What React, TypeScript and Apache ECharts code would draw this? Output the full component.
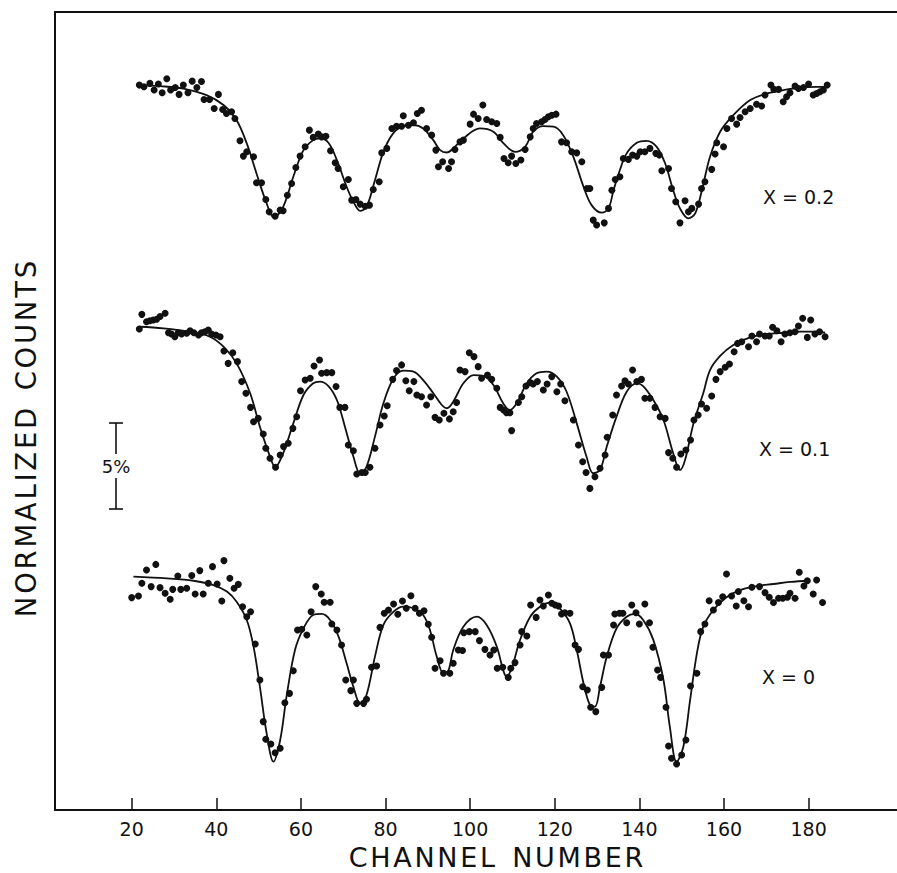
import React, { useEffect, useRef } from "react";
import * as echarts from "echarts";

// Channel number tick labels
const channelTicks = [20, 40, 60, 80, 100, 120, 140, 160, 180];

// Spectrum labels and vertical offsets (in % of normalized counts)
const spectrumLabels = ["X = 0.2", "X = 0.1", "X = 0"];
const spectrumOffsets = [28.6, 14.42, 0];

// X = 0.2 : measured points [channel, normalized counts %]
const x02Points = [
  [21.8,100.06],[22.9,99.96],[24.3,100.16],[25.3,99.77],[26.3,100.12],[27.2,99.61],[28.3,100.43],[29.2,99.77],[30.3,99.92],[31.2,99.52],[32.2,100.06],[33.3,99.61],[34.3,100.29],[35.4,99.92],[36.5,100.27],[37.1,99.22],[38.4,99.22],[39.5,98.70],[40.5,99.52],[41.5,98.64],[42.4,98.41],[43.6,98.51],[44.4,98.12],[45.6,96.82],[46.4,95.93],[47.2,96.18],[48.8,95.89],[49.5,94.38],[50.7,94.38],[51.7,93.41],[52.5,92.69],[53.9,92.44],[55.1,92.79],[55.8,92.75],[56.8,93.66],[57.8,94.34],[58.8,95.27],[59.8,95.93],[61.0,96.47],[62.0,97.44],[62.9,97.02],[64.1,97.21],[64.9,97.05],[65.9,97.09],[67.0,96.24],[68.1,95.54],[68.8,95.21],[70.0,94.15],[71.2,94.57],[72.0,93.37],[73.0,93.41],[74.0,93.14],[75.2,93.02],[76.2,93.08],[77.1,93.99],[78.5,94.44],[79.1,96.12],[80.3,96.38],[81.5,97.54],[82.6,97.67],[83.8,97.67],[84.2,98.28],[85.4,97.73],[86.6,97.87],[87.5,98.41],[88.5,98.60],[89.7,97.54],[90.9,97.15],[91.9,96.28],[92.5,95.31],[93.5,95.60],[94.9,95.21],[95.6,95.60],[96.4,96.32],[97.6,96.76],[98.4,96.86],[100.0,97.79],[100.8,98.37],[101.9,98.12],[103.0,98.90],[103.9,98.06],[105.1,97.93],[106.3,97.83],[107.1,97.02],[108.0,95.79],[109.0,95.54],[109.8,95.93],[110.8,95.50],[112.0,95.70],[113.0,96.32],[114.2,97.05],[114.9,97.54],[115.7,97.83],[116.9,97.93],[117.7,98.06],[118.5,98.22],[119.3,98.31],[120.3,98.37],[121.6,96.76],[122.8,96.71],[124.0,96.18],[125.2,96.12],[126.4,95.60],[127.6,94.05],[128.3,94.05],[129.1,92.21],[129.9,91.92],[131.7,92.05],[132.7,92.89],[133.5,93.95],[134.3,94.57],[135.4,94.73],[136.2,95.79],[137.4,95.74],[138.4,95.99],[139.4,95.93],[140.2,96.18],[141.3,96.18],[142.5,96.38],[143.9,96.09],[144.7,95.99],[145.3,95.08],[146.9,95.21],[147.6,94.05],[148.6,93.28],[149.6,92.05],[150.8,93.33],[151.6,92.69],[152.4,92.89],[154.0,93.14],[154.7,94.05],[155.5,94.44],[157.1,95.16],[157.9,96.05],[158.3,96.71],[159.9,96.47],[160.7,97.54],[161.8,98.12],[163.0,97.79],[163.8,98.18],[165.0,98.51],[166.2,98.70],[167.7,98.95],[168.9,98.84],[169.7,99.48],[171.1,100.06],[171.8,99.81],[172.9,99.81],[174.0,99.09],[174.8,99.38],[175.6,99.61],[176.8,100.00],[177.6,99.86],[178.8,99.92],[180.0,100.12],[181.1,99.48],[181.9,99.57],[182.7,99.67],[183.5,99.77],[184.4,100.06]
];
// X = 0.2 : fitted curve
const x02Fit = [
  [21.8,100.06],[26.7,100.00],[32.2,99.86],[37.7,99.48],[41.7,98.90],[44.8,98.02],[47.2,96.67],[49.5,94.92],[51.9,93.18],[53.6,92.36],[55.8,92.98],[58.2,94.73],[60.6,96.28],[62.9,96.86],[64.5,96.96],[66.5,96.71],[68.5,95.70],[70.8,94.15],[72.4,93.28],[74.0,92.75],[75.5,92.98],[77.5,94.53],[79.5,96.18],[81.8,97.25],[84.2,97.67],[86.6,97.73],[88.9,97.54],[91.3,96.86],[92.9,96.28],[94.5,96.14],[96.0,96.38],[98.4,96.96],[102.3,97.54],[105.5,97.35],[107.9,96.67],[110.6,96.18],[113.0,96.47],[114.9,97.35],[117.3,97.67],[119.7,97.64],[122.0,97.15],[124.4,95.89],[126.8,94.15],[128.7,93.08],[131.1,92.64],[132.7,92.89],[133.9,93.95],[135.4,95.12],[137.0,96.09],[139.4,96.71],[141.7,96.82],[144.1,96.47],[146.1,95.50],[148.0,93.95],[149.6,92.89],[151.6,92.31],[153.2,92.60],[154.7,93.86],[156.7,95.89],[159.1,97.35],[162.2,98.31],[166.2,99.19],[170.1,99.57],[174.1,99.77],[178.0,99.92],[181.9,99.96],[184.3,99.96]
];

// X = 0.1 : measured points
const x01Points = [
  [21.8,100.06],[22.4,100.91],[23.5,100.48],[24.3,100.54],[25.1,100.58],[25.9,100.62],[26.7,100.78],[27.9,100.97],[28.7,99.84],[29.4,99.77],[30.2,99.61],[31.0,99.84],[31.8,99.77],[33.0,99.81],[33.8,99.96],[34.7,99.84],[35.8,99.71],[36.5,99.84],[37.3,99.90],[38.1,100.00],[38.9,99.77],[39.9,99.71],[40.9,99.61],[41.8,98.78],[42.8,98.06],[43.9,98.68],[45.0,98.16],[46.0,97.00],[47.0,96.32],[48.1,95.50],[48.8,94.67],[49.9,94.86],[51.1,93.95],[51.7,93.12],[52.7,92.54],[54.0,92.02],[55.1,92.73],[55.9,93.22],[57.0,93.41],[58.1,94.28],[59.0,94.96],[59.9,96.47],[61.0,97.09],[62.2,97.19],[63.1,97.91],[64.4,98.26],[64.9,97.48],[66.1,97.52],[67.3,97.52],[68.3,96.71],[69.2,95.50],[70.4,95.50],[71.2,93.31],[72.4,92.98],[73.2,91.63],[74.4,91.71],[75.2,91.71],[76.3,92.02],[77.5,93.12],[78.7,94.48],[79.7,95.00],[80.4,95.60],[81.7,97.13],[82.6,97.64],[83.8,97.97],[84.8,97.05],[85.6,96.47],[86.7,97.00],[87.4,96.22],[88.5,96.12],[89.7,95.64],[90.7,96.12],[91.7,94.92],[92.7,94.77],[93.8,95.16],[95.1,94.83],[96.0,95.25],[96.8,95.78],[97.6,97.67],[98.8,97.58],[99.8,98.68],[100.9,98.45],[101.9,97.87],[102.7,97.19],[104.1,97.38],[105.1,97.13],[106.3,96.61],[107.1,95.50],[107.9,95.35],[108.6,95.19],[109.4,95.19],[109.8,94.15],[111.4,95.78],[112.2,96.12],[113.2,96.74],[114.2,96.94],[114.9,96.86],[115.9,97.00],[117.3,96.51],[118.2,96.86],[119.3,97.29],[120.5,96.41],[121.4,96.86],[122.4,95.89],[124.4,94.77],[125.6,93.31],[126.6,92.34],[127.4,91.71],[128.3,90.79],[129.5,91.47],[130.7,91.96],[131.9,92.73],[132.4,93.76],[133.7,95.06],[134.6,96.22],[135.8,96.74],[136.6,97.05],[137.4,96.86],[138.4,97.67],[139.4,97.00],[140.5,97.13],[141.3,96.03],[142.5,96.03],[143.7,95.50],[144.9,94.96],[146.1,94.86],[146.9,92.87],[147.9,92.54],[148.8,92.02],[149.8,92.79],[151.0,93.02],[152.1,93.60],[152.9,94.77],[153.9,95.06],[154.7,95.70],[155.9,95.45],[157.1,96.16],[158.1,97.13],[159.1,97.58],[160.3,97.83],[161.3,98.02],[162.4,98.74],[163.2,99.22],[164.2,99.32],[165.8,99.03],[166.6,99.65],[167.7,99.32],[168.4,99.77],[169.7,99.65],[170.7,99.65],[171.5,100.16],[172.5,99.96],[173.5,99.32],[174.4,99.77],[175.6,99.84],[176.8,99.90],[177.6,100.23],[178.6,100.68],[179.7,99.57],[180.5,100.58],[181.5,99.77],[182.6,99.90],[183.9,99.61]
];
// X = 0.1 : fitted curve
const x01Fit = [
  [21.8,100.19],[27.5,100.10],[33.8,99.90],[38.5,99.61],[41.7,99.03],[44.8,98.06],[48.0,96.32],[50.3,94.38],[52.7,92.64],[53.9,92.02],[55.8,92.83],[58.2,94.57],[60.6,96.22],[62.9,96.90],[64.5,97.00],[66.5,96.74],[68.5,95.93],[70.4,94.38],[72.4,92.64],[74.0,91.67],[75.5,92.05],[77.5,93.80],[79.5,95.74],[81.9,97.19],[84.2,97.64],[86.6,97.58],[88.9,97.09],[91.3,96.32],[93.3,95.64],[94.5,95.45],[96.0,95.83],[98.4,96.90],[100.8,97.38],[103.1,97.33],[105.5,96.80],[107.8,95.74],[109.4,95.35],[111.0,95.74],[113.4,96.90],[115.7,97.48],[118.1,97.58],[120.5,97.29],[122.8,96.41],[125.2,94.57],[127.5,92.64],[129.1,91.67],[130.7,91.86],[132.3,93.22],[134.6,94.96],[137.0,96.41],[139.4,96.90],[140.9,96.74],[143.3,95.93],[145.7,94.77],[148.0,92.83],[149.6,91.86],[150.8,92.44],[152.8,94.57],[155.1,96.32],[156.7,97.67],[159.1,98.49],[162.2,99.13],[166.2,99.57],[170.1,99.77],[174.0,99.84],[178.0,99.90],[181.9,99.90],[183.9,99.84]
];

// X = 0 : measured points
const x00Points = [
  [20.0,98.86],[21.6,98.95],[22.4,99.69],[23.5,100.47],[24.6,99.50],[25.7,100.79],[26.7,99.44],[27.9,99.11],[29.1,98.76],[29.7,99.34],[30.9,100.12],[31.6,99.34],[33.0,99.40],[34.2,100.14],[35.0,99.07],[36.1,100.43],[36.9,99.07],[38.1,99.69],[39.1,100.66],[40.2,99.65],[41.3,98.66],[41.8,101.01],[43.2,99.98],[44.2,99.40],[45.2,99.63],[46.2,98.33],[47.2,97.75],[48.1,98.04],[49.2,96.16],[50.3,94.07],[51.1,91.65],[51.7,90.62],[52.9,90.35],[53.9,89.84],[55.1,90.10],[56.2,92.75],[57.3,93.29],[58.2,94.61],[59.2,96.98],[60.2,97.02],[61.4,96.69],[62.4,98.04],[63.5,99.50],[64.8,99.07],[65.5,98.59],[66.9,98.59],[67.3,97.33],[68.5,96.98],[69.6,96.10],[70.6,94.07],[71.8,93.45],[72.4,94.07],[73.2,92.71],[74.8,92.71],[75.5,92.95],[76.7,94.81],[77.9,94.88],[78.7,97.13],[79.7,97.95],[80.7,98.14],[81.9,98.49],[82.9,97.89],[84.0,98.66],[84.9,98.24],[86.0,98.97],[87.0,98.24],[88.0,97.95],[89.1,98.10],[90.1,97.31],[90.9,96.55],[91.7,94.75],[92.9,95.19],[93.7,94.46],[95.2,94.46],[96.0,95.04],[97.2,95.81],[98.2,95.78],[98.5,96.82],[99.8,96.88],[101.2,96.88],[102.2,96.36],[103.5,95.85],[104.7,95.52],[105.6,95.81],[106.4,94.75],[107.7,94.81],[109.0,94.22],[109.6,94.75],[110.6,95.08],[111.8,96.10],[112.2,96.88],[113.4,96.63],[114.3,98.43],[115.6,97.71],[116.5,98.72],[117.3,98.37],[118.5,99.01],[119.3,98.53],[120.1,98.43],[120.9,98.37],[121.6,97.91],[122.4,97.98],[123.6,97.95],[124.8,96.10],[125.6,95.85],[126.6,93.68],[127.7,93.49],[128.5,92.48],[129.7,92.23],[131.1,93.64],[131.5,95.52],[132.7,95.52],[133.9,97.27],[134.2,97.91],[135.3,97.95],[136.1,97.95],[137.0,97.40],[138.2,98.43],[139.2,97.98],[140.0,97.33],[141.3,98.49],[142.4,97.40],[143.2,95.97],[144.3,94.65],[145.0,94.22],[146.3,92.48],[146.9,90.23],[147.6,89.52],[148.8,89.19],[150.0,89.71],[151.0,90.58],[152.1,93.72],[153.6,94.46],[154.5,96.88],[155.5,97.33],[156.5,98.68],[157.5,98.14],[158.7,98.57],[159.7,98.91],[160.6,100.23],[161.8,98.95],[162.9,98.37],[163.4,99.21],[164.7,98.68],[165.8,98.33],[166.6,99.46],[168.4,99.50],[169.7,99.15],[170.7,98.88],[171.7,98.57],[172.9,98.82],[173.9,98.82],[175.0,98.88],[175.6,99.11],[176.8,98.82],[177.8,100.33],[178.9,99.53],[179.7,99.84],[181.1,99.07],[181.9,99.88],[183.3,98.57]
];
// X = 0 : fitted curve
const x00Fit = [
  [20.4,100.08],[28.3,99.98],[34.6,99.84],[39.3,99.59],[42.5,99.21],[44.8,98.62],[47.2,97.56],[48.8,96.01],[50.3,93.68],[51.9,90.97],[53.5,89.32],[55.1,90.58],[56.6,93.10],[58.6,95.81],[60.6,97.07],[62.9,97.85],[64.9,97.91],[66.9,97.56],[68.9,96.59],[70.8,95.04],[72.4,93.68],[74.0,92.71],[75.5,93.20],[77.5,95.43],[79.5,97.27],[81.9,98.04],[84.2,98.33],[86.6,98.24],[88.9,97.85],[90.5,96.98],[92.1,95.43],[93.7,94.46],[94.9,94.65],[96.0,95.81],[98.4,97.17],[101.6,97.75],[103.9,97.27],[106.3,96.01],[107.8,94.65],[108.6,94.26],[109.8,94.75],[111.8,96.40],[114.2,97.75],[116.5,98.33],[118.9,98.57],[121.2,98.24],[123.6,97.36],[125.2,95.81],[126.8,93.88],[128.3,92.62],[129.5,92.52],[130.7,93.68],[132.3,95.43],[134.6,97.07],[137.0,97.75],[138.9,97.91],[140.9,97.56],[143.3,96.40],[145.7,94.07],[147.2,91.36],[148.8,89.32],[150.4,90.19],[152.0,92.91],[153.6,95.62],[155.1,97.17],[157.5,98.14],[160.6,98.88],[163.8,99.30],[167.7,99.53],[171.7,99.65],[175.6,99.77],[180.3,99.84]
];

const INK = "#111111";
const FONT = '"DejaVu Sans", "Liberation Sans", sans-serif';
const HS = "\u200A";
const spaced = (s: string) => s.split("").join(HS);

export default function App() {
  const ref = useRef<HTMLDivElement>(null);

  useEffect(() => {
    if (!ref.current) return;
    const chart = echarts.init(ref.current, undefined, { renderer: "svg" });

    const pointSets = [x02Points, x01Points, x00Points];
    const fitSets = [x02Fit, x01Fit, x00Fit];
    const series: any[] = [];
    pointSets.forEach((pts, i) => {
      const off = spectrumOffsets[i];
      series.push({
        type: "scatter",
        name: spectrumLabels[i] + " data",
        data: pts.map(([c, v]) => [c, v + off]),
        symbol: "circle",
        symbolSize: 7,
        itemStyle: { color: INK, opacity: 1 },
        silent: true,
        z: 3,
      });
      series.push({
        type: "line",
        name: spectrumLabels[i] + " fit",
        data: fitSets[i].map(([c, v]) => [c, v + off]),
        smooth: 0.35,
        showSymbol: false,
        symbol: "none",
        lineStyle: { color: INK, width: 1.8 },
        silent: true,
        z: 2,
      });
    });

    const textStyle = (text: string, size: number, align: string) => ({
      text,
      font: `${size}px ${FONT}`,
      fill: INK,
      align,
      verticalAlign: "middle",
      textAlign: align,
      textVerticalAlign: "middle",
    });

    chart.setOption({
      animation: false,
      backgroundColor: "#ffffff",
      grid: { left: 55, top: 12, right: 0, bottom: 63, show: false },
      xAxis: [
        {
          type: "value",
          position: "bottom",
          min: 1.87,
          max: 200.9,
          axisLine: { show: true, onZero: false, lineStyle: { color: INK, width: 2 } },
          axisTick: {
            show: true,
            inside: true,
            length: 12,
            customValues: channelTicks,
            lineStyle: { color: INK, width: 1.5 },
          },
          axisLabel: {
            customValues: channelTicks,
            color: INK,
            fontSize: 19,
            fontFamily: FONT,
            margin: 9,
          },
          splitLine: { show: false },
        },
        {
          type: "value",
          position: "top",
          min: 1.87,
          max: 200.9,
          axisLine: { show: true, onZero: false, lineStyle: { color: INK, width: 2 } },
          axisTick: { show: false },
          axisLabel: { show: false },
          splitLine: { show: false },
        },
      ],
      yAxis: {
        type: "value",
        min: 86.51,
        max: 132.91,
        axisLine: { show: true, onZero: false, lineStyle: { color: INK, width: 2 } },
        axisTick: { show: false },
        axisLabel: { show: false },
        splitLine: { show: false },
      },
      series,
      graphic: [
        {
          type: "text",
          x: 26,
          y: 439,
          rotation: Math.PI / 2,
          style: textStyle(spaced("NORMALIZED") + "  " + spaced("COUNTS"), 27.5, "center"),
        },
        {
          type: "text",
          x: 496,
          y: 857,
          style: textStyle(spaced("CHANNEL") + "  " + spaced("NUMBER"), 27, "center"),
        },
        ...[
          { t: spectrumLabels[0], x: 763, y: 197 },
          { t: spectrumLabels[1], x: 759, y: 449 },
          { t: spectrumLabels[2], x: 762, y: 677 },
        ].map((d) => ({
          type: "text",
          x: d.x,
          y: d.y,
          style: textStyle(d.t, 19, "left"),
        })),
        { type: "line", shape: { x1: 116, y1: 423, x2: 116, y2: 454 }, style: { stroke: INK, lineWidth: 1.6 } },
        { type: "line", shape: { x1: 116, y1: 478, x2: 116, y2: 509 }, style: { stroke: INK, lineWidth: 1.6 } },
        { type: "line", shape: { x1: 109, y1: 423, x2: 123, y2: 423 }, style: { stroke: INK, lineWidth: 1.6 } },
        { type: "line", shape: { x1: 109, y1: 509, x2: 123, y2: 509 }, style: { stroke: INK, lineWidth: 1.6 } },
        { type: "text", x: 116, y: 466, style: textStyle("5%", 18, "center") },
      ],
    });

    return () => {
      chart.dispose();
    };
  }, []);

  return (
    <div
      ref={ref}
      style={{ position: "absolute", left: 0, top: 0, width: 897, height: 873 }}
    />
  );
}
